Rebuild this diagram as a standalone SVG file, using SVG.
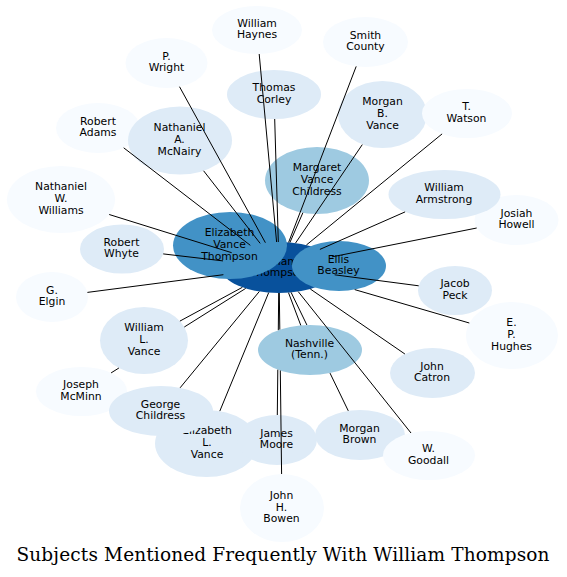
<svg xmlns="http://www.w3.org/2000/svg" width="567" height="577" viewBox="0 0 567 577">
<style>
.n ellipse{stroke:none}
.c0{fill:#08519c}.c1{fill:#4292c6}.c2{fill:#9ecae1}.c3{fill:#deebf7}.c4{fill:#f7fbff}
.n text{font-family:"DejaVu Sans",sans-serif;font-size:10.8px;text-anchor:middle;fill:#000}
#edges path{fill:none;stroke:#000;stroke-width:1}
.title{font-family:"DejaVu Serif",serif;font-size:18.5px;text-anchor:middle;fill:#000}
</style>
<rect width="567" height="577" fill="#fff"/>
<g id="nodes">
<g id="n_thompson" class="n"><ellipse class="c0" cx="279" cy="267.5" rx="58" ry="25.5"/><text x="278" y="264.6">William</text><text x="278" y="276.4">Thompson</text></g>
<g id="n_evt" class="n"><ellipse class="c1" cx="230" cy="245.5" rx="57" ry="33.5"/><text x="229.5" y="236.2">Elizabeth</text><text x="229.5" y="248">Vance</text><text x="229.5" y="259.8">Thompson</text></g>
<g id="n_ellis" class="n"><ellipse class="c1" cx="339" cy="266" rx="47" ry="25"/><text x="338.5" y="262.6">Ellis</text><text x="338.5" y="274.4">Beasley</text></g>
<g id="n_mvc" class="n"><ellipse class="c2" cx="317" cy="180.5" rx="52" ry="33.5"/><text x="317" y="171.2">Margaret</text><text x="317" y="183">Vance</text><text x="317" y="194.8">Childress</text></g>
<g id="n_nashville" class="n"><ellipse class="c2" cx="310" cy="350" rx="52" ry="25"/><text x="309.5" y="346.6">Nashville</text><text x="309.5" y="358.4">(Tenn.)</text></g>
<g id="n_haynes" class="n"><ellipse class="c4" cx="257" cy="30" rx="45" ry="24"/><text x="257" y="26.6">William</text><text x="257" y="38.4">Haynes</text></g>
<g id="n_smith" class="n"><ellipse class="c4" cx="365.5" cy="42" rx="42.5" ry="25"/><text x="365.5" y="38.6">Smith</text><text x="365.5" y="50.4">County</text></g>
<g id="n_wright" class="n"><ellipse class="c4" cx="166.5" cy="63" rx="41" ry="25"/><text x="166.5" y="59.6">P.</text><text x="166.5" y="71.4">Wright</text></g>
<g id="n_corley" class="n"><ellipse class="c3" cx="274" cy="94.5" rx="47" ry="24.5"/><text x="274" y="91.1">Thomas</text><text x="274" y="102.9">Corley</text></g>
<g id="n_adams" class="n"><ellipse class="c4" cx="98" cy="128" rx="42" ry="25"/><text x="98" y="124.6">Robert</text><text x="98" y="136.4">Adams</text></g>
<g id="n_mcnairy" class="n"><ellipse class="c3" cx="180" cy="140.5" rx="52" ry="34"/><text x="179.5" y="131.2">Nathaniel</text><text x="179.5" y="143">A.</text><text x="179.5" y="154.8">McNairy</text></g>
<g id="n_mbvance" class="n"><ellipse class="c3" cx="382.5" cy="114.5" rx="44.5" ry="33.5"/><text x="382.5" y="105.2">Morgan</text><text x="382.5" y="117">B.</text><text x="382.5" y="128.8">Vance</text></g>
<g id="n_watson" class="n"><ellipse class="c4" cx="467" cy="113.5" rx="45" ry="24.5"/><text x="466.5" y="110.1">T.</text><text x="466.5" y="121.9">Watson</text></g>
<g id="n_howell" class="n"><ellipse class="c4" cx="516.5" cy="220" rx="42" ry="25"/><text x="516.5" y="216.6">Josiah</text><text x="516.5" y="228.4">Howell</text></g>
<g id="n_armstrong" class="n"><ellipse class="c3" cx="444.5" cy="194.5" rx="56" ry="24.5"/><text x="444" y="191.1">William</text><text x="444" y="202.9">Armstrong</text></g>
<g id="n_nwwilliams" class="n"><ellipse class="c4" cx="61" cy="199.5" rx="54" ry="33.5"/><text x="61" y="190.2">Nathaniel</text><text x="61" y="202">W.</text><text x="61" y="213.8">Williams</text></g>
<g id="n_whyte" class="n"><ellipse class="c3" cx="122" cy="249" rx="42" ry="24.5"/><text x="121.5" y="245.6">Robert</text><text x="121.5" y="257.4">Whyte</text></g>
<g id="n_elgin" class="n"><ellipse class="c4" cx="52" cy="297" rx="36" ry="25"/><text x="52" y="293.6">G.</text><text x="52" y="305.4">Elgin</text></g>
<g id="n_peck" class="n"><ellipse class="c3" cx="455" cy="290.5" rx="37" ry="24.5"/><text x="455" y="287.1">Jacob</text><text x="455" y="298.9">Peck</text></g>
<g id="n_hughes" class="n"><ellipse class="c4" cx="512" cy="335.5" rx="46" ry="33.5"/><text x="511.5" y="326.2">E.</text><text x="511.5" y="338">P.</text><text x="511.5" y="349.8">Hughes</text></g>
<g id="n_mcminn" class="n"><ellipse class="c4" cx="81.5" cy="391.5" rx="45.5" ry="24.5"/><text x="81" y="388.1">Joseph</text><text x="81" y="399.9">McMinn</text></g>
<g id="n_wlvance" class="n"><ellipse class="c3" cx="144" cy="340.5" rx="44" ry="33.5"/><text x="144" y="331.2">William</text><text x="144" y="343">L.</text><text x="144" y="354.8">Vance</text></g>
<g id="n_catron" class="n"><ellipse class="c3" cx="432.5" cy="373" rx="42.5" ry="25"/><text x="432" y="369.6">John</text><text x="432" y="381.4">Catron</text></g>
<g id="n_elvance" class="n"><ellipse class="c3" cx="206.5" cy="443.5" rx="51.5" ry="33.5"/><text x="207" y="434.2">Elizabeth</text><text x="207" y="446">L.</text><text x="207" y="457.8">Vance</text></g>
<g id="n_gchildress" class="n"><ellipse class="c3" cx="161" cy="411" rx="52" ry="25"/><text x="160.5" y="407.6">George</text><text x="160.5" y="419.4">Childress</text></g>
<g id="n_moore" class="n"><ellipse class="c3" cx="277" cy="440" rx="40" ry="25"/><text x="276.5" y="436.6">James</text><text x="276.5" y="448.4">Moore</text></g>
<g id="n_brown" class="n"><ellipse class="c3" cx="360" cy="435" rx="45" ry="25"/><text x="359.5" y="431.6">Morgan</text><text x="359.5" y="443.4">Brown</text></g>
<g id="n_goodall" class="n"><ellipse class="c4" cx="429" cy="455.5" rx="46" ry="24.5"/><text x="428.5" y="452.1">W.</text><text x="428.5" y="463.9">Goodall</text></g>
<g id="n_bowen" class="n"><ellipse class="c4" cx="282" cy="508" rx="42" ry="34"/><text x="281.5" y="498.7">John</text><text x="281.5" y="510.5">H.</text><text x="281.5" y="522.3">Bowen</text></g>
</g>
<g id="edges">
<path d="M276.6,242 L259.2,54"/>
<path d="M278.3,242 L274.7,119"/>
<path d="M265.4,242.7 L179.5,86.7"/>
<path d="M260.2,243.4 L203.6,170.8"/>
<path d="M250.3,245.3 L123.7,147.8"/>
<path d="M231.7,252.7 L109.2,214.5"/>
<path d="M223,260.9 L163.2,253.9"/>
<path d="M223.4,274.7 L87.4,292.4"/>
<path d="M242.4,287.3 L179.9,321.1"/>
<path d="M245.7,288.4 L184.3,327 M118.9,368 L111.1,372.9"/>
<path d="M259.3,291.5 L180.1,387.8"/>
<path d="M268.7,292.6 L219.8,411.1"/>
<path d="M278.7,293 L278.3,330.2 M277.8,369.7 L277.3,415"/>
<path d="M279.3,293 L279.8,329.6 M280.3,370.5 L281.6,474"/>
<path d="M288.5,292.7 L300.8,325.4"/>
<path d="M291.1,292.4 L306.9,325 M330,373.1 L348.3,410.9"/>
<path d="M298.2,291.6 L411,433"/>
<path d="M310.3,289 L404.9,354"/>
<path d="M354.7,289.6 L469.3,323"/>
<path d="M334.6,274.8 L418.7,285.8"/>
<path d="M331.8,256.9 L476.7,228"/>
<path d="M319.9,249.4 L405.1,211.9"/>
<path d="M306.4,245 L442.1,133.9"/>
<path d="M295.5,243.1 L362.3,144.6"/>
<path d="M288.6,242.4 L356.2,66.4"/>
<path d="M289.9,242.5 L302.9,212.7"/>
</g>
<text class="title" x="283" y="561" textLength="533" lengthAdjust="spacing">Subjects Mentioned Frequently With William Thompson</text>
</svg>
